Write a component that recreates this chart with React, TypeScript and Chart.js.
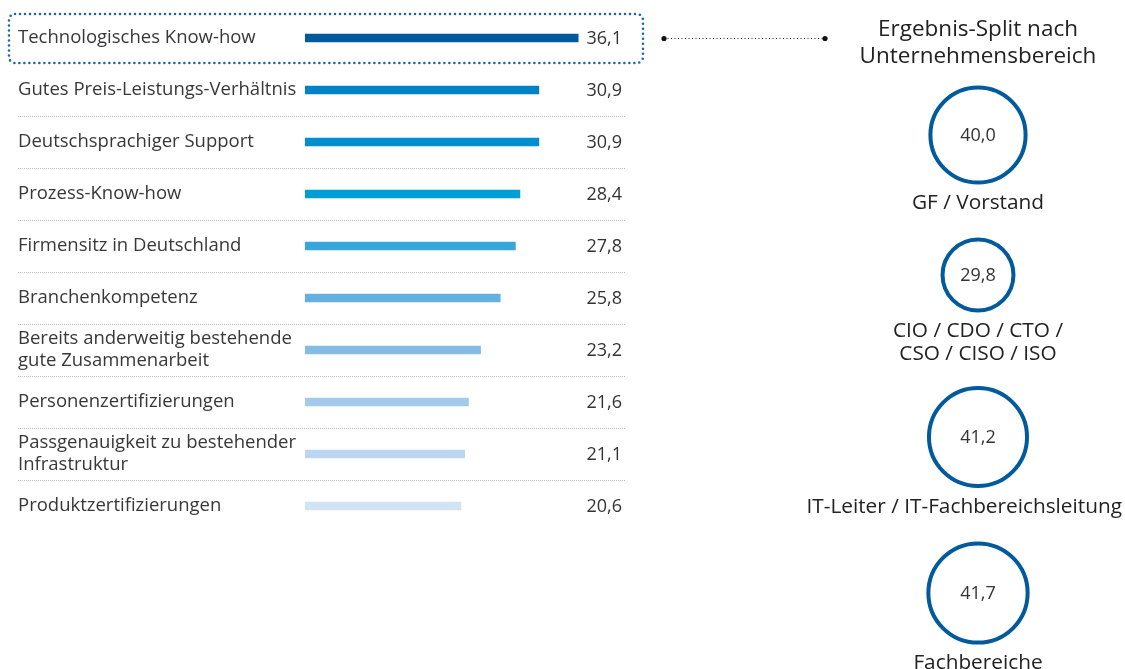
import React, { useEffect, useRef } from "react";
import { Chart, registerables } from "chart.js";

Chart.register(...registerables);

// ---------- data ----------
const categories: (string | string[])[] = [
  "Technologisches Know-how",
  "Gutes Preis-Leistungs-Verhältnis",
  "Deutschsprachiger Support",
  "Prozess-Know-how",
  "Firmensitz in Deutschland",
  "Branchenkompetenz",
  ["Bereits anderweitig bestehende", "gute Zusammenarbeit"],
  "Personenzertifizierungen",
  ["Passgenauigkeit zu bestehender", "Infrastruktur"],
  "Produktzertifizierungen",
];
const values = [36.1, 30.9, 30.9, 28.4, 27.8, 25.8, 23.2, 21.6, 21.1, 20.6];
const barColors = [
  "#005a9c",
  "#0082c6",
  "#008ecf",
  "#009dd7",
  "#38a6dc",
  "#64b0e0",
  "#85bce5",
  "#a3c9eb",
  "#bcd6f0",
  "#d2e3f4",
];
const splitTitle = ["Ergebnis-Split nach", "Unternehmensbereich"];
const splitLabels: string[][] = [
  ["GF / Vorstand"],
  ["CIO / CDO / CTO /", "CSO / CISO / ISO"],
  ["IT-Leiter / IT-Fachbereichsleitung"],
  ["Fachbereiche"],
];
const splitValues = [40.0, 29.8, 41.2, 41.7];

// ---------- layout constants ----------
const X_MAX = 37;
const FONT = "'Open Sans', 'DejaVu Sans', sans-serif";
const TEXT = "#333333";
const RING = "#005a9c";
const R_PER_UNIT = 1.19;
const RING_W = 4;
const CX = 978;
const CENTERS_Y = [135, 275, 437, 593];
const BUBBLE_CANVAS = 130;
const LABEL_SIZE = 20.8;
const RIGHT_EDGE = 1122;

const fmt = (v: number) => v.toFixed(1).replace(".", ",");

let measureCtx: CanvasRenderingContext2D | null = null;
function textWidth(t: string, font: string) {
  if (!measureCtx) measureCtx = document.createElement("canvas").getContext("2d");
  if (!measureCtx) return 0;
  measureCtx.font = font;
  return measureCtx.measureText(t).width;
}

const decorPlugin = {
  id: "decor",
  afterDatasetsDraw(chart: any) {
    const ctx = chart.ctx;
    const meta = chart.getDatasetMeta(0);
    const area = chart.chartArea;
    const els = meta.data;
    ctx.save();
    // values
    ctx.fillStyle = TEXT;
    ctx.font = `18px ${FONT}`;
    ctx.textAlign = "right";
    ctx.textBaseline = "middle";
    els.forEach((el: any, i: number) => {
      ctx.fillText(fmt(values[i]), area.right + 37, el.y + 1);
    });
    // separators
    ctx.strokeStyle = "#bdbdbd";
    ctx.lineWidth = 1;
    ctx.setLineDash([1, 1]);
    for (let i = 1; i < els.length - 1; i++) {
      const y = Math.round((els[i].y + els[i + 1].y) / 2) + 0.5;
      ctx.beginPath();
      ctx.moveTo(18, y);
      ctx.lineTo(625, y);
      ctx.stroke();
    }
    // highlight box around first row
    const y0 = els[0].y;
    ctx.strokeStyle = "#1a67ad";
    ctx.lineWidth = 2.6;
    ctx.lineCap = "round";
    ctx.setLineDash([0, 5]);
    ctx.beginPath();
    (ctx as any).roundRect(9, y0 - 24, 634, 49, 6);
    ctx.stroke();
    // connector
    ctx.strokeStyle = "#222";
    ctx.lineWidth = 1;
    ctx.lineCap = "butt";
    ctx.setLineDash([1, 2.5]);
    ctx.beginPath();
    ctx.moveTo(664, y0 + 0.5);
    ctx.lineTo(825, y0 + 0.5);
    ctx.stroke();
    ctx.setLineDash([]);
    ctx.fillStyle = "#111";
    [664, 825].forEach((x) => {
      ctx.beginPath();
      ctx.arc(x, y0 + 0.5, 2.6, 0, Math.PI * 2);
      ctx.fill();
    });
    ctx.restore();
  },
};

function BarPanel() {
  const ref = useRef<HTMLCanvasElement>(null);
  useEffect(() => {
    if (!ref.current) return;
    const chart = new Chart(ref.current, {
      type: "bar",
      data: {
        labels: categories as any,
        datasets: [
          {
            data: values,
            backgroundColor: barColors,
            borderWidth: 0,
            barThickness: 8,
          },
        ],
      },
      options: {
        indexAxis: "y",
        animation: false,
        responsive: false,
        maintainAspectRatio: false,
        events: [],
        layout: { padding: { left: 18, top: 12, bottom: 13, right: 255 } },
        plugins: { legend: { display: false }, tooltip: { enabled: false } },
        scales: {
          x: { min: 0, max: X_MAX, display: false },
          y: {
            grid: { display: false },
            border: { display: false },
            ticks: {
              crossAlign: "far",
              color: "#383838",
              padding: 0,
              font: { family: FONT, size: 18.5, lineHeight: 1.2 },
            },
            afterFit: (s: any) => {
              s.width = 287;
            },
          },
        },
      } as any,
      plugins: [decorPlugin],
    });
    return () => chart.destroy();
  }, []);
  return (
    <canvas
      ref={ref}
      width={840}
      height={545}
      style={{ position: "absolute", left: 0, top: 0, width: 840, height: 545 }}
    />
  );
}

const valueTextPlugin = {
  id: "valueText",
  afterDatasetsDraw(chart: any) {
    const ctx = chart.ctx;
    const meta = chart.getDatasetMeta(0);
    const ds = chart.data.datasets[0];
    ctx.save();
    ctx.fillStyle = TEXT;
    ctx.font = `18px ${FONT}`;
    ctx.textAlign = "center";
    ctx.textBaseline = "middle";
    meta.data.forEach((el: any, i: number) => {
      ctx.fillText(fmt(ds.value[i]), el.x, el.y + 1);
    });
    ctx.restore();
  },
};

function Bubble({ value, cy }: { value: number; cy: number }) {
  const ref = useRef<HTMLCanvasElement>(null);
  useEffect(() => {
    if (!ref.current) return;
    const chart = new Chart(ref.current, {
      type: "bubble",
      data: {
        datasets: [
          {
            data: [{ x: 0, y: 0, r: value * R_PER_UNIT }],
            value: [value],
            backgroundColor: "#ffffff",
            borderColor: RING,
            borderWidth: RING_W,
            hoverBorderWidth: RING_W,
            clip: false,
          } as any,
        ],
      },
      options: {
        animation: false,
        responsive: false,
        maintainAspectRatio: false,
        events: [],
        layout: { padding: 0 },
        plugins: { legend: { display: false }, tooltip: { enabled: false } },
        scales: {
          x: { type: "linear", min: -1, max: 1, display: false },
          y: { type: "linear", min: -1, max: 1, display: false },
        },
      } as any,
      plugins: [valueTextPlugin],
    });
    return () => chart.destroy();
  }, [value]);
  return (
    <canvas
      ref={ref}
      width={BUBBLE_CANVAS}
      height={BUBBLE_CANVAS}
      style={{
        position: "absolute",
        left: CX - BUBBLE_CANVAS / 2,
        top: cy - BUBBLE_CANVAS / 2,
        width: BUBBLE_CANVAS,
        height: BUBBLE_CANVAS,
      }}
    />
  );
}

export default function App() {
  const LABEL_LH = 23;
  return (
    <div
      style={{
        position: "fixed",
        left: 0,
        top: 0,
        width: 1125,
        height: 669,
        background: "#ffffff",
        overflow: "hidden",
        fontFamily: FONT,
      }}
    >
      <BarPanel />
      <div
        style={{
          position: "absolute",
          left: CX - 160,
          top: 14,
          width: 320,
          textAlign: "center",
          fontSize: 22.5,
          lineHeight: "27px",
          color: "#222",
        }}
      >
        {splitTitle.map((t, i) => (
          <div key={i}>{t}</div>
        ))}
      </div>
      {splitValues.map((v, i) => {
        const cy = CENTERS_Y[i];
        const outer = v * R_PER_UNIT + RING_W / 2;
        const top = cy + outer + 17 - LABEL_LH / 2;
        return (
          <React.Fragment key={i}>
            <Bubble value={v} cy={cy} />
            {splitLabels[i].map((t, j) => {
              const w = textWidth(t, `${LABEL_SIZE}px ${FONT}`);
              const left = Math.min(CX - w / 2, RIGHT_EDGE - w);
              return (
                <div
                  key={j}
                  style={{
                    position: "absolute",
                    left,
                    top: top + j * LABEL_LH,
                    whiteSpace: "nowrap",
                    fontSize: LABEL_SIZE,
                    lineHeight: `${LABEL_LH}px`,
                    color: "#222",
                  }}
                >
                  {t}
                </div>
              );
            })}
          </React.Fragment>
        );
      })}
    </div>
  );
}
